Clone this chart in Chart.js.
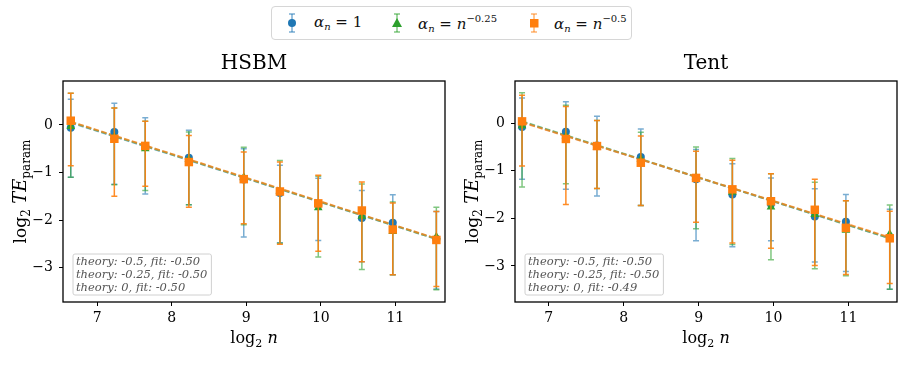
<!DOCTYPE html>
<html>
<head>
<meta charset="utf-8">
<script src="https://cdn.jsdelivr.net/npm/chart.js@4.4.1/dist/chart.umd.min.js"></script>
<style>
  body { margin: 0; background: #fff; width: 904px; height: 378px; position: relative; overflow: hidden; }
  canvas { position: absolute; top: 0; }
  #legend { position: absolute; left: 271px; top: 6px; width: 359px; height: 32px; border: 1px solid #d6d6d6; border-radius: 4px; background: #fff; font-family: 'DejaVu Serif', serif; font-size: 15px; color: #111; }
  .item { position: absolute; top: 0; height: 32px; }
  .item svg { position: absolute; top: 5px; }
  .item span.t { position: absolute; top: 6px; white-space: nowrap; }
  i { font-style: italic; }
  sub { font-size: 10px; vertical-align: -3px; font-style: italic; }
  sup { font-size: 10px; vertical-align: 7px; }
</style>
</head>
<body>
<div id="legend"></div>
<canvas id="hsbm" width="452" height="378" style="left:0"></canvas>
<canvas id="tent" width="452" height="378" style="left:452px"></canvas>
<script>
// x positions: log2 n
const logN = [6.644, 7.229, 7.644, 8.229, 8.966, 9.451, 9.966, 10.551, 10.966, 11.551];

// HSBM panel, series: alpha_n = 1, n^-0.25, n^-0.5
const hsbmMean1 = [-0.06, -0.15, -0.45, -0.69, -1.15, -1.43, -1.68, -1.96, -2.06, -2.40];
const hsbmLo1 = [-1.10, -1.25, -1.45, -1.68, -2.36, -2.48, -2.43, -2.88, -3.15, -3.45];
const hsbmHi1 = [0.54, 0.46, 0.15, -0.11, -0.50, -0.85, -1.12, -1.38, -1.47, -1.82];
const hsbmMean25 = [-0.03, -0.25, -0.50, -0.72, -1.10, -1.40, -1.74, -1.92, -2.24, -2.35];
const hsbmLo25 = [-1.10, -1.26, -1.38, -1.68, -2.10, -2.49, -2.78, -3.04, -3.15, -3.47];
const hsbmHi25 = [0.67, 0.36, 0.08, -0.15, -0.47, -0.75, -1.08, -1.24, -1.62, -1.73];
const hsbmMean5 = [0.09, -0.29, -0.44, -0.78, -1.14, -1.40, -1.65, -1.80, -2.20, -2.42];
const hsbmLo5 = [-0.86, -1.50, -1.29, -1.73, -2.08, -2.51, -2.66, -2.88, -3.15, -3.40];
const hsbmHi5 = [0.67, 0.36, 0.08, -0.22, -0.57, -0.78, -1.06, -1.20, -1.64, -1.82];
const hsbmFitStart = [0.05, 0.06, 0.07];
const hsbmFitEnd = [-2.40, -2.40, -2.39];
const hsbmFitText = ['-0.50', '-0.50', '-0.50'];

// Tent panel
const tentMean1 = [-0.08, -0.18, -0.47, -0.71, -1.18, -1.50, -1.70, -1.96, -2.07, -2.40];
const tentLo1 = [-1.18, -1.39, -1.53, -1.73, -2.47, -2.60, -2.47, -2.92, -3.12, -3.49];
const tentHi1 = [0.53, 0.45, 0.15, -0.12, -0.55, -0.85, -1.15, -1.38, -1.50, -1.81];
const tentMean25 = [-0.05, -0.27, -0.50, -0.75, -1.13, -1.45, -1.76, -1.92, -2.25, -2.33];
const tentLo25 = [-1.34, -1.27, -1.37, -1.73, -2.22, -2.55, -2.87, -3.06, -3.21, -3.49];
const tentHi25 = [0.64, 0.38, 0.06, -0.19, -0.50, -0.74, -1.06, -1.24, -1.63, -1.72];
const tentMean5 = [0.04, -0.33, -0.48, -0.83, -1.15, -1.39, -1.64, -1.82, -2.20, -2.42];
const tentLo5 = [-0.90, -1.71, -1.37, -1.73, -2.08, -2.52, -2.63, -2.99, -3.18, -3.37];
const tentHi5 = [0.59, 0.35, 0.06, -0.27, -0.59, -0.78, -1.06, -1.18, -1.63, -1.85];
const tentFitStart = [0.03, 0.04, 0.02];
const tentFitEnd = [-2.42, -2.42, -2.40];
const tentFitText = ['-0.50', '-0.50', '-0.49'];

const theoryText = ['-0.5', '-0.25', '0'];
const legendLabels = ['<i>α</i><sub>n</sub> = 1', '<i>α</i><sub>n</sub> = <i>n</i><sup>−0.25</sup>', '<i>α</i><sub>n</sub> = <i>n</i><sup>−0.5</sup>'];

const colors = ['#1f77b4', '#2ca02c', '#ff7f0e'];
const barAlpha = [0.6, 0.6, 0.9];
const fitAlpha = [0.5, 0.5, 0.75];
const pointStyles = ['circle', 'triangle', 'rect'];
const pointRadii = [4, 5, 6];
const serif = "'DejaVu Serif', serif";

function rgba(hex, a) {
  const n = parseInt(hex.slice(1), 16);
  return `rgba(${n >> 16},${(n >> 8) & 255},${n & 255},${a})`;
}

// legend (html, because of the sub/superscripts)
const legendEl = document.getElementById('legend');
const markerX = [13, 118, 255];
const textX = [42, 146, 282];
legendLabels.forEach((lab, s) => {
  const it = document.createElement('div');
  it.className = 'item';
  it.style.left = markerX[s] + 'px';
  let shape;
  if (s === 0) shape = `<circle cx="7" cy="11" r="4" fill="${colors[s]}"/>`;
  else if (s === 1) shape = `<polygon points="7,6 12,15 2,15" fill="${colors[s]}"/>`;
  else shape = `<rect x="3" y="7" width="8.5" height="8.5" fill="${colors[s]}"/>`;
  it.innerHTML = `<svg width="14" height="22"><g stroke="${rgba(colors[s], 0.6)}" stroke-width="1.5">` +
    `<line x1="7" y1="2" x2="7" y2="20"/><line x1="4" y1="2" x2="10" y2="2"/><line x1="4" y1="20" x2="10" y2="20"/></g>${shape}</svg>`;
  legendEl.append(it);
  const t = document.createElement('span');
  t.className = 'item';
  t.innerHTML = `<span class="t">${lab}</span>`;
  t.style.left = textX[s] + 'px';
  legendEl.append(t);
});

// error bars drawn under each series' markers
const errorBars = {
  id: 'errorBars',
  beforeDatasetDraw(chart, args) {
    const ds = chart.data.datasets[args.index];
    if (!ds.errLo) return;
    const xs = chart.scales.x;
    const ys = chart.scales.y;
    const ctx = chart.ctx;
    ctx.save();
    ctx.strokeStyle = ds.errColor;
    ctx.lineWidth = 1.5;
    ds.data.forEach((p, i) => {
      const px = xs.getPixelForValue(p.x);
      const y1 = ys.getPixelForValue(ds.errLo[i]);
      const y2 = ys.getPixelForValue(ds.errHi[i]);
      ctx.beginPath();
      ctx.moveTo(px, y1); ctx.lineTo(px, y2);
      ctx.moveTo(px - 3, y1); ctx.lineTo(px + 3, y1);
      ctx.moveTo(px - 3, y2); ctx.lineTo(px + 3, y2);
      ctx.stroke();
    });
    ctx.restore();
  },
};

function drawRich(ctx, parts, cx, cy, rot) {
  ctx.save();
  ctx.translate(cx, cy);
  ctx.rotate(rot);
  let w = 0;
  parts.forEach(p => { ctx.font = p[1]; w += ctx.measureText(p[0]).width; });
  let xx = -w / 2;
  ctx.fillStyle = '#000';
  ctx.textBaseline = 'alphabetic';
  parts.forEach(p => {
    ctx.font = p[1];
    ctx.fillText(p[0], xx, p[2]);
    xx += ctx.measureText(p[0]).width;
  });
  ctx.restore();
}

// title, axis labels, frame and fit text box
const panelDeco = {
  id: 'panelDeco',
  afterDraw(chart, args, opts) {
    const ctx = chart.ctx;
    const a = chart.chartArea;
    const cx = (a.left + a.right) / 2;
    ctx.save();
    ctx.fillStyle = '#000';
    ctx.font = `20px ${serif}`;
    ctx.textAlign = 'center';
    ctx.textBaseline = 'alphabetic';
    ctx.fillText(opts.title, cx, 69);
    ctx.restore();

    drawRich(ctx, [['log', `16px ${serif}`, 5], ['2', `11px ${serif}`, 9], [' ', `16px ${serif}`, 5], ['n', `italic 16px ${serif}`, 5]], cx, 338, 0);
    drawRich(ctx, [['log', `17px ${serif}`, 5], ['2', `12px ${serif}`, 9], [' ', `17px ${serif}`, 5], ['TE', `italic 18px ${serif}`, 5], ['param', `12px ${serif}`, 9]], 21, (a.top + a.bottom) / 2, -Math.PI / 2);

    ctx.save();
    ctx.strokeStyle = '#000';
    ctx.lineWidth = 1.3;
    ctx.strokeRect(a.left, a.top, a.right - a.left, a.bottom - a.top);
    ctx.restore();

    // fit box
    ctx.save();
    ctx.font = `italic 11.5px ${serif}`;
    const lines = theoryText.map((t, i) => `theory: ${t}, fit: ${opts.fits[i]}`);
    const tw = Math.max(...lines.map(l => ctx.measureText(l).width));
    const bx = a.left + 10, by = a.bottom - 48, bw = tw + 7, bh = 41;
    ctx.beginPath();
    ctx.roundRect(bx, by, bw, bh, 2);
    ctx.fillStyle = 'rgba(255,255,255,0.8)';
    ctx.fill();
    ctx.strokeStyle = '#d0d0d0';
    ctx.lineWidth = 1;
    ctx.stroke();
    ctx.fillStyle = '#555';
    ctx.textBaseline = 'middle';
    lines.forEach((l, i) => ctx.fillText(l, bx + 3, by + 8 + i * 13));
    ctx.restore();
  },
};

function makeDatasets(means, los, his, fitStart, fitEnd) {
  const ds = [];
  for (let s = 0; s < 3; s++) {
    ds.push({
      type: 'line',
      data: [{ x: logN[0], y: fitStart[s] }, { x: logN[logN.length - 1], y: fitEnd[s] }],
      borderColor: rgba(colors[s], fitAlpha[s]),
      borderDash: [5.5, 2.5],
      borderWidth: 2,
      pointRadius: 0,
      order: 12 - s,
    });
  }
  for (let s = 0; s < 3; s++) {
    ds.push({
      type: 'scatter',
      data: logN.map((x, i) => ({ x, y: means[s][i] })),
      pointStyle: pointStyles[s],
      pointRadius: pointRadii[s],
      backgroundColor: colors[s],
      borderColor: colors[s],
      borderWidth: 0,
      errLo: los[s],
      errHi: his[s],
      errColor: rgba(colors[s], barAlpha[s]),
      order: 3 - s,
    });
  }
  return ds;
}

function makePanel(id, title, datasets, fits, xr, yr) {
  const tickFont = { family: serif, size: 14 };
  new Chart(document.getElementById(id), {
    type: 'scatter',
    data: { datasets },
    options: {
      responsive: false,
      animation: false,
      devicePixelRatio: 1,
      layout: { padding: { top: 81, right: 7, bottom: 0, left: 0 } },
      plugins: {
        legend: { display: false },
        tooltip: { enabled: false },
        panelDeco: { title, fits },
      },
      scales: {
        x: {
          type: 'linear',
          min: xr[0],
          max: xr[1],
          afterFit: sc => { sc.height = 76; },
          border: { display: false },
          grid: { drawOnChartArea: false, tickLength: 4, color: '#000' },
          ticks: { stepSize: 1, includeBounds: false, color: '#000', font: tickFont, padding: 4, maxRotation: 0 },
        },
        y: {
          type: 'linear',
          min: yr[0],
          max: yr[1],
          afterFit: sc => { sc.width = 63; },
          border: { display: false },
          grid: { drawOnChartArea: false, tickLength: 4, color: '#000' },
          ticks: {
            stepSize: 1, includeBounds: false, color: '#000', font: tickFont, padding: 6,
            callback: v => (v < 0 ? '\u2212' + Math.abs(v) : String(v)),
          },
        },
      },
    },
    plugins: [errorBars, panelDeco],
  });
}

makePanel('hsbm', 'HSBM',
  makeDatasets([hsbmMean1, hsbmMean25, hsbmMean5], [hsbmLo1, hsbmLo25, hsbmLo5], [hsbmHi1, hsbmHi25, hsbmHi5], hsbmFitStart, hsbmFitEnd),
  hsbmFitText, [6.54, 11.667], [-3.726, 0.926]);
makePanel('tent', 'Tent',
  makeDatasets([tentMean1, tentMean25, tentMean5], [tentLo1, tentLo25, tentLo5], [tentHi1, tentHi25, tentHi5], tentFitStart, tentFitEnd),
  tentFitText, [6.55, 11.648], [-3.76, 0.889]);
</script>
</body>
</html>
